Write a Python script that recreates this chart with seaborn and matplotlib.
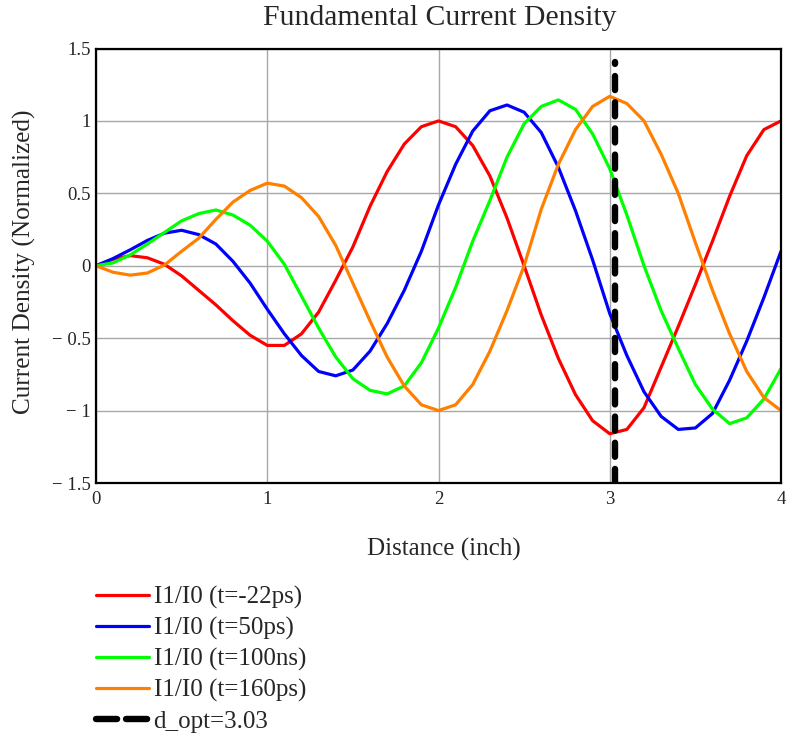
import numpy as np
import pandas as pd
import matplotlib
matplotlib.use("Agg")
import matplotlib.pyplot as plt
from matplotlib.lines import Line2D
import seaborn as sns

# Distance along the line (inch)
distance = [round(0.1 * i, 1) for i in range(41)]

# Normalized fundamental current density I1/I0 at four times
i1_t_m22ps = [0.0, 0.045, 0.07, 0.055, 0.01, -0.07, -0.17, -0.27, -0.38, -0.48,
              -0.55, -0.55, -0.47, -0.32, -0.10, 0.13, 0.41, 0.65, 0.84, 0.96,
              1.0, 0.96, 0.83, 0.62, 0.33, 0.0, -0.34, -0.64, -0.89, -1.07,
              -1.16, -1.13, -0.98, -0.70, -0.42, -0.13, 0.17, 0.48, 0.76, 0.94,
              1.0]
i1_t_50ps = [0.0, 0.05, 0.11, 0.175, 0.225, 0.245, 0.215, 0.15, 0.03, -0.12,
             -0.30, -0.47, -0.62, -0.73, -0.76, -0.72, -0.59, -0.40, -0.17, 0.10,
             0.42, 0.70, 0.93, 1.07, 1.11, 1.06, 0.92, 0.68, 0.38, 0.04,
             -0.33, -0.62, -0.87, -1.04, -1.13, -1.12, -1.02, -0.79, -0.52, -0.22,
             0.10]
i1_t_100ns = [0.0, 0.02, 0.075, 0.15, 0.23, 0.31, 0.36, 0.385, 0.35, 0.28,
              0.17, 0.01, -0.21, -0.43, -0.63, -0.78, -0.86, -0.885, -0.83, -0.67,
              -0.43, -0.15, 0.17, 0.45, 0.75, 0.98, 1.10, 1.145, 1.08, 0.91,
              0.67, 0.35, 0.0, -0.31, -0.57, -0.82, -0.99, -1.09, -1.05, -0.92,
              -0.71]
i1_t_160ps = [0.0, -0.045, -0.065, -0.05, 0.005, 0.10, 0.19, 0.32, 0.44, 0.52,
              0.57, 0.55, 0.47, 0.34, 0.14, -0.12, -0.38, -0.63, -0.83, -0.96,
              -1.0, -0.96, -0.82, -0.59, -0.31, 0.0, 0.39, 0.70, 0.94, 1.10,
              1.17, 1.12, 1.00, 0.77, 0.50, 0.16, -0.17, -0.47, -0.73, -0.91,
              -1.0]

series_labels = ["I1/I0 (t=-22ps)", "I1/I0 (t=50ps)", "I1/I0 (t=100ns)", "I1/I0 (t=160ps)"]
series_colors = ["#ff0000", "#0000ff", "#00ff00", "#ff8000"]

# Optimal distance marker
d_opt = 3.03
d_opt_span = [-1.5, 1.41]
d_opt_label = "d_opt=3.03"

x_ticks = [0, 1, 2, 3, 4]
y_ticks = [-1.5, -1.0, -0.5, 0.0, 0.5, 1.0, 1.5]
y_tick_labels = ["\u2212 1.5", "\u2212 1", "\u2212 0.5", "0", "0.5", "1", "1.5"]

sns.set_theme(style="white")
plt.rcParams["font.family"] = ["Liberation Serif", "DejaVu Serif"]

frames = []
for lab, vals in zip(series_labels, [i1_t_m22ps, i1_t_50ps, i1_t_100ns, i1_t_160ps]):
    frames.append(pd.DataFrame({"distance": distance, "density": vals, "series": lab}))
df = pd.concat(frames, ignore_index=True)

fig = plt.figure(figsize=(7.89, 7.37), dpi=100)
ax = fig.add_axes([96 / 789, 1 - 483 / 737, 685 / 789, 434.5 / 737])

sns.lineplot(data=df, x="distance", y="density", hue="series",
             palette=dict(zip(series_labels, series_colors)),
             hue_order=series_labels, estimator=None, sort=False,
             linewidth=2.3, legend=False, ax=ax)

ax.plot([d_opt, d_opt], d_opt_span, color="black", linewidth=4.6,
        linestyle=(0, (2.2, 1.9)), dash_capstyle="round", solid_capstyle="round",
        zorder=5)

ax.set_xlim(0, 4)
ax.set_ylim(-1.5, 1.5)
ax.set_xticks(x_ticks)
ax.set_xticklabels([str(t) for t in x_ticks], fontsize=13.5)
ax.set_yticks(y_ticks)
ax.set_yticklabels(y_tick_labels, fontsize=13.5)
ax.tick_params(axis="x", length=0, pad=6)
ax.tick_params(axis="y", length=0, pad=4)
ax.grid(True, color="#a8a8a8", linewidth=1.0)
ax.set_axisbelow(True)
for side in ["left", "bottom", "top", "right"]:
    ax.spines[side].set_color("black")
    ax.spines[side].set_linewidth(1.6)
ax.set_xlabel("")
ax.set_ylabel("")

fig.text(440 / 789, 1 - 18 / 737, "Fundamental Current Density",
         ha="center", va="center", fontsize=21.4)
fig.text(444 / 789, 1 - 549 / 737, "Distance (inch)",
         ha="center", va="center", fontsize=18)
fig.text(24 / 789, 1 - 262 / 737, "Current Density (Normalized)",
         ha="center", va="center", rotation=90, fontsize=18.2)

handles = [Line2D([], [], color=c, linewidth=2.3) for c in series_colors]
handles.append(Line2D([], [], color="black", linewidth=4.6,
                      linestyle=(0, (3.3, 1.4)), dash_capstyle="round"))
fig.legend(handles, series_labels + [d_opt_label], loc="upper left",
           bbox_to_anchor=(96 / 789, 1 - 586 / 737), frameon=False,
           fontsize=18, handlelength=2.1, handletextpad=0.2,
           labelspacing=0.32, borderpad=0, borderaxespad=0)

fig.savefig("out.png", dpi=100)
